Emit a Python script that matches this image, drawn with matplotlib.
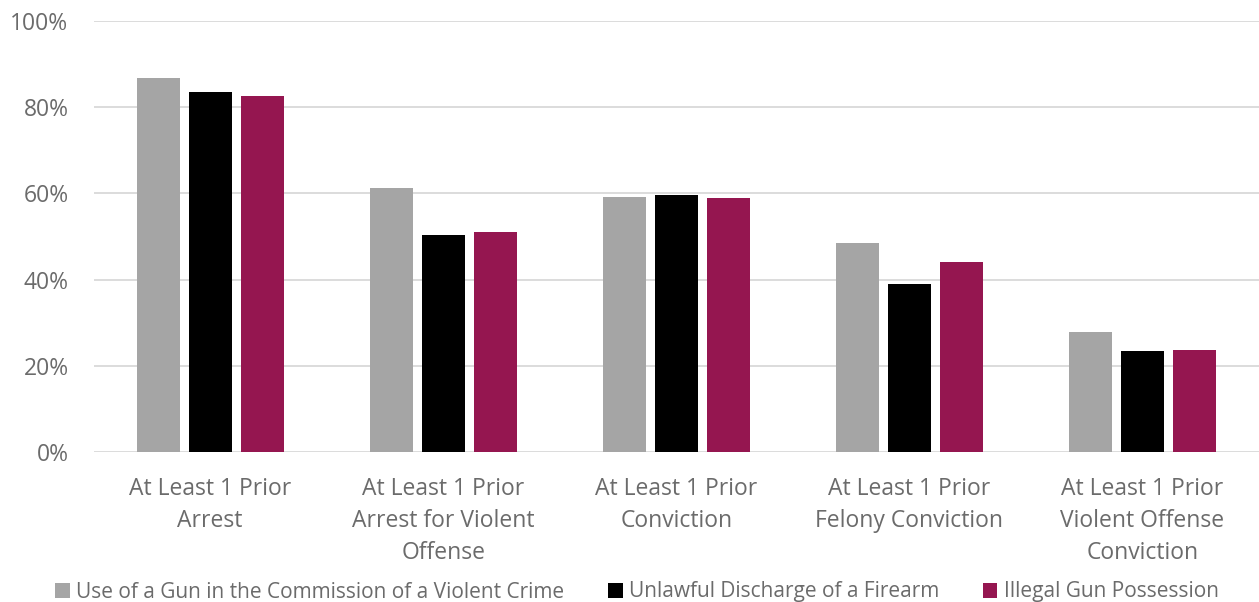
import numpy as np
import matplotlib
matplotlib.use("Agg")
import matplotlib.pyplot as plt

categories = ["At Least 1 Prior\nArrest",
              "At Least 1 Prior\nArrest for Violent\nOffense",
              "At Least 1 Prior\nConviction",
              "At Least 1 Prior\nFelony Conviction",
              "At Least 1 Prior\nViolent Offense\nConviction"]
series_names = ["Use of a Gun in the Commission of a Violent Crime",
                "Unlawful Discharge of a Firearm",
                "Illegal Gun Possession"]
gun_violent = [86.9, 61.2, 59.2, 48.4, 27.9]
unlawful_discharge = [83.5, 50.3, 59.6, 39.1, 23.4]
illegal_possession = [82.6, 51.0, 58.9, 44.0, 23.8]
yticks = [0, 20, 40, 60, 80, 100]

colors = ["#A5A5A5", "#000000", "#951650"]
text_color = "#6B6B6B"

plt.rcParams['font.family'] = ['Open Sans', 'DejaVu Sans']

fig = plt.figure(figsize=(12.59, 6.02), dpi=100)
ax = fig.add_axes([0.0743, 0.249, 0.9257, 0.716])

x = np.arange(len(categories))
width = 0.185
step = 0.223
for i, (vals, c, name) in enumerate(zip([gun_violent, unlawful_discharge, illegal_possession], colors, series_names)):
    ax.bar(x + (i - 1) * step, vals, width, color=c, label=name, zorder=3)

ax.set_xlim(-0.5, len(categories) - 0.5)
ax.set_ylim(0, 100)
ax.set_yticks(yticks)
ax.set_yticklabels([f"{t}%" for t in yticks])
ax.yaxis.grid(True, color="#D9D9D9", linewidth=1.3, zorder=0)
ax.set_xticks(x)
ax.set_xticklabels(categories, linespacing=1.45)
for s in ax.spines.values():
    s.set_visible(False)
ax.tick_params(axis="both", length=0, colors=text_color, labelsize=16.5)
ax.tick_params(axis="y", pad=18)
ax.tick_params(axis="x", pad=18)

fig.legend(loc="center", bbox_to_anchor=(0.506, 1 - 592 / 602), ncol=3, frameon=False,
           fontsize=15, labelcolor=text_color, handlelength=0.7, handleheight=0.7,
           handletextpad=0.3, columnspacing=2.1)

fig.savefig("out.png", dpi=100)
